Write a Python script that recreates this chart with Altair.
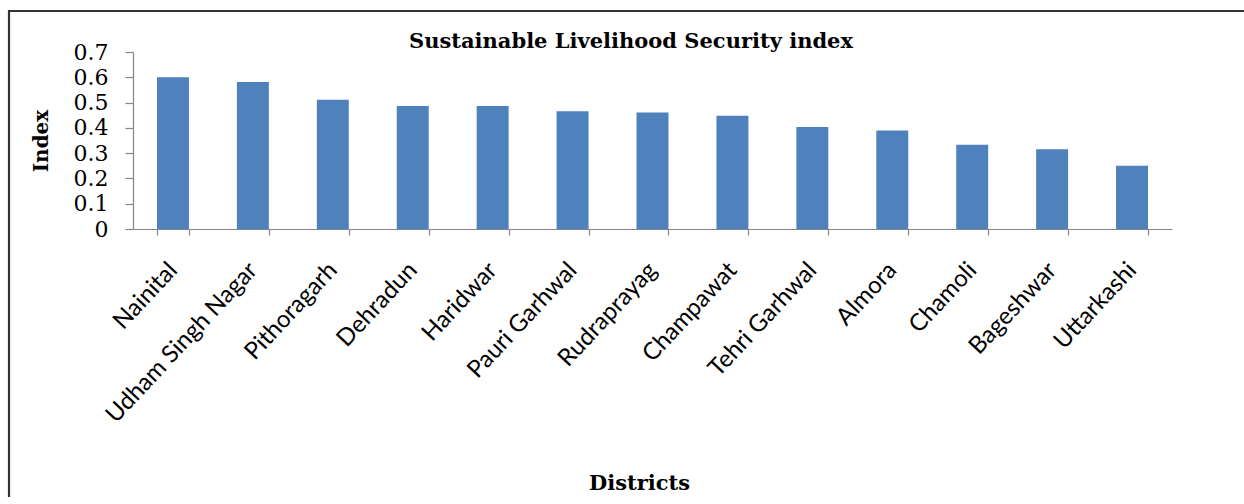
import altair as alt
import pandas as pd

# Sustainable Livelihood Security index by district
districts = [
    "Nainital", "Udham Singh Nagar", "Pithoragarh", "Dehradun", "Haridwar",
    "Pauri Garhwal", "Rudraprayag", "Champawat", "Tehri Garhwal", "Almora",
    "Chamoli", "Bageshwar", "Uttarkashi",
]
slsi = [0.600, 0.581, 0.511, 0.486, 0.486, 0.466, 0.461, 0.448, 0.403, 0.390,
        0.333, 0.315, 0.250]
y_ticks = [0, 0.1, 0.2, 0.3, 0.4, 0.5, 0.6, 0.7]

df = pd.DataFrame({"District": districts, "Index": slsi})

W, H = 1039, 177
PAD = {"left": 133, "top": 52, "right": 72, "bottom": 268}

serif = "DejaVu Serif"
sans = "Lato"
axis_grey = "#868686"
frame_grey = "#333333"

bars = alt.Chart(df).mark_bar(color="#4F81BD").encode(
    x=alt.X(
        "District:N",
        sort=districts,
        scale=alt.Scale(paddingInner=0.6, paddingOuter=0.3),
        axis=alt.Axis(
            title="Districts",
            titleFont=serif,
            titleFontSize=21,
            titleFontWeight="bold",
            titleColor="#000000",
            titleX=506,
            titleY=254,
            titleBaseline="middle",
            titleAlign="center",
            labelFont=sans,
            labelFontSize=24,
            labelColor="#000000",
            labelAngle=313,
            labelAlign="right",
            labelBaseline="middle",
            labelPadding=31,
            labelOverlap=False,
            labelLimit=400,
            tickBand="extent",
            tickSize=6,
            tickColor=axis_grey,
            domainColor=axis_grey,
            tickWidth=1.2,
            domainWidth=1.2,
        ),
    ),
    y=alt.Y(
        "Index:Q",
        scale=alt.Scale(domain=[0, 0.7], nice=False),
        axis=alt.Axis(
            title="Index",
            titleFont=serif,
            titleFontSize=20,
            titleFontWeight="bold",
            titleColor="#000000",
            titleAngle=270,
            titleX=-92,
            titleY=H / 2,
            titleAlign="center",
            titleBaseline="middle",
            values=y_ticks,
            labelExpr="datum.value == 0 ? '0' : format(datum.value, '.1f')",
            labelFont=serif,
            labelFontSize=22,
            labelColor="#000000",
            labelPadding=17,
            tickSize=8,
            tickColor=axis_grey,
            domainColor=axis_grey,
            tickWidth=1.2,
            domainWidth=1.2,
            grid=False,
        ),
    ),
)

blank = alt.Data(values=[{}])

heading = alt.Chart(blank).mark_text(
    font=serif, fontSize=21, fontWeight="bold", color="#000000",
    align="center", baseline="middle",
).encode(
    x=alt.value(498), y=alt.value(-10),
    text=alt.value("Sustainable Livelihood Security index"),
)

# outer frame; its right and bottom edges fall outside the canvas
frame = alt.Chart(blank).mark_rect(
    filled=False, stroke=frame_grey, strokeWidth=2.2
).encode(
    x=alt.value(-124), x2=alt.value(1140), y=alt.value(-41), y2=alt.value(480)
)

chart = alt.layer(bars, heading, frame).properties(
    width=W,
    height=H,
    padding=PAD,
    autosize=alt.AutoSizeParams(type="none"),
    background="#ffffff",
).configure_view(stroke=None)

chart.save("out.html", embed_options={"renderer": "svg", "actions": False})
